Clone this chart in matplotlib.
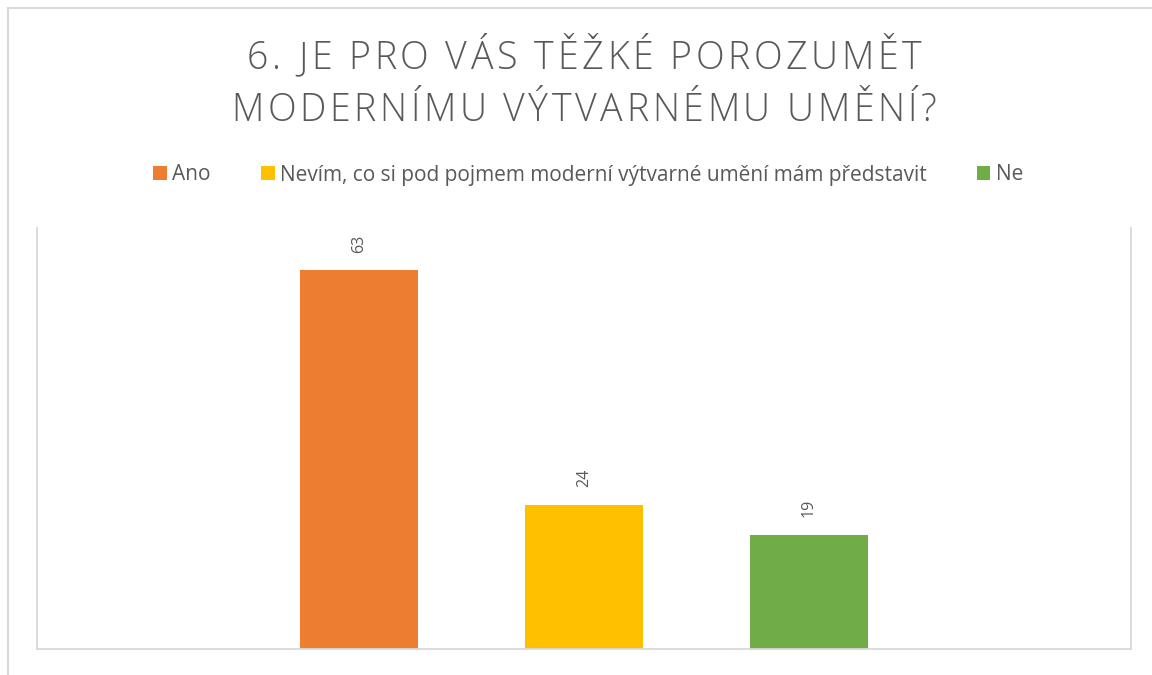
import matplotlib
matplotlib.use("Agg")
import matplotlib.pyplot as plt
from matplotlib.lines import Line2D
from matplotlib.patches import Patch
from matplotlib.font_manager import FontProperties

# ---- data ----
series = ["Ano", "Nevím, co si pod pojmem moderní výtvarné umění mám představit", "Ne"]
values = [63, 24, 19]
colors = ["#ED7D31", "#FFC000", "#70AD47"]
title_lines = ["6. JE PRO VÁS TĚŽKÉ POROZUMĚT", "MODERNÍMU VÝTVARNÉMU UMĚNÍ?"]

W, H = 1152, 675
fig = plt.figure(figsize=(W / 100, H / 100), dpi=100)
fig.patch.set_facecolor("white")
plt.rcParams["font.family"] = ["Open Sans", "DejaVu Sans"]
text_color = "#595959"
grid_color = "#D9D9D9"

# outer chart border (cropped)
fig.add_artist(Line2D([8 / W, 8 / W], [0, 1 - 8 / H], color=grid_color, lw=1.5, transform=fig.transFigure))
fig.add_artist(Line2D([8 / W, 1], [1 - 8 / H, 1 - 8 / H], color=grid_color, lw=1.5, transform=fig.transFigure))

# plot area
left, right, top, bottom = 37, 1131, 228, 649
ax = fig.add_axes([left / W, 1 - bottom / H, (right - left) / W, (bottom - top) / H])
x = list(range(len(values)))
bars = ax.bar(x, values, width=0.524, color=colors, zorder=2)
ax.set_ylim(0, 70)
ax.set_xlim(-1.431, 3.431)
ax.set_xticks([])
ax.set_yticks([])
for s in ["left", "right", "bottom"]:
    ax.spines[s].set_color(grid_color)
    ax.spines[s].set_linewidth(1.3)
ax.spines["top"].set_visible(False)

for xi, v in zip(x, values):
    ax.annotate(str(v), (xi, v), xytext=(0, 19), textcoords="offset points",
                rotation=90, ha="center", va="center", fontsize=11.5, color=text_color)

# legend
handles = [Patch(facecolor=c, edgecolor="none") for c in colors]
fig.legend(handles, series, loc="center", bbox_to_anchor=(0.5 + 12 / W, 1 - 175 / H), ncol=3,
           frameon=False, fontsize=15, labelcolor=text_color,
           handlelength=0.67, handleheight=0.67, handletextpad=0.25, columnspacing=2.4)

# spaced title
renderer = fig.canvas.get_renderer()
prop = FontProperties(family=["Open Sans", "DejaVu Sans"], size=27, weight="light")
spacing = 3.6  # px between letters


def spaced(line, cy):
    widths = [renderer.get_text_width_height_descent(ch, prop, ismath=False)[0] for ch in line]
    total = sum(widths) + spacing * (len(line) - 1)
    cx = (W + 16) / 2 - total / 2
    for ch, w in zip(line, widths):
        fig.text(cx / W, 1 - cy / H, ch, fontproperties=prop, color=text_color, ha="left", va="baseline")
        cx += w + spacing


spaced(title_lines[0], 69)
spaced(title_lines[1], 121)

fig.savefig("out.png", dpi=100)
